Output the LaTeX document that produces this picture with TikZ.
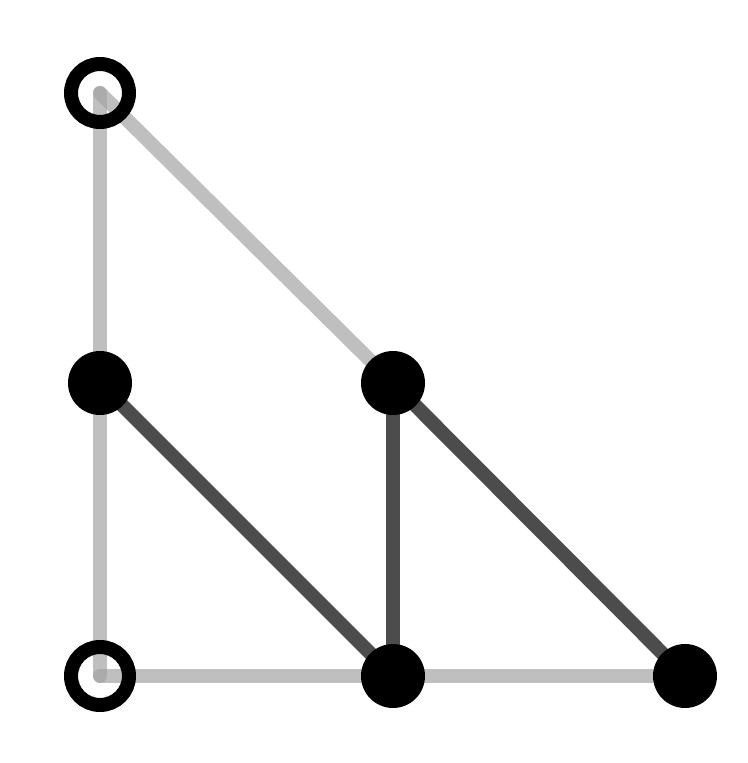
\documentclass[tikz,border=0pt]{standalone}
\usepackage{tikz}
\usetikzlibrary{positioning}

\begin{document}
\begin{tikzpicture}[
        dot/.style={circle,fill=black,inner sep=0pt,minimum size=1.28cm},
        ring/.style={circle,draw=black,line width=0.28cm,inner sep=0pt,minimum size=1.16cm},
        light/.style={line width=0.28cm,line cap=round,draw=black!37,draw opacity=0.68},
        dark/.style={line width=0.28cm,line cap=round,draw=black!70}]
                \useasboundingbox (0,0) rectangle (14.96,15.26);
                \coordinate (tl) at (2.0,13.4);
                \coordinate (ml) at (2.0,7.6);
                \coordinate (mm) at (7.86,7.6);
                \coordinate (bl) at (2.0,1.74);
                \coordinate (bm) at (7.86,1.74);
                \coordinate (br) at (13.7,1.74);
                % outer edges
                \draw[light](tl)--(ml);
                \draw[light](ml)--(bl);
                \draw[light](tl)--(mm);
                \draw[light](bl)--(bm);
                \draw[light](bm)--(br);
                % inner edges
                \draw[dark](ml)--(bm);
                \draw[dark](mm)--(bm);
                \draw[dark](mm)--(br);
                \node[ring] at (tl)(ntl){};
                \node[ring] at (bl)(nbl){};
                \node[dot] at (ml)(nml){};
                \node[dot] at (mm)(nmm){};
                \node[dot] at (bm)(nbm){};
                \node[dot] at (br)(nbr){};
            \end{tikzpicture}
\end{document}
